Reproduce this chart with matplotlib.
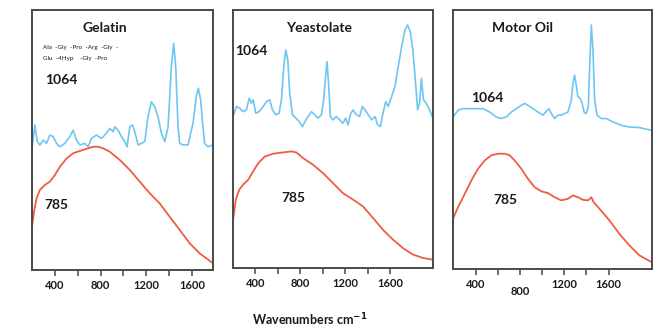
import matplotlib
matplotlib.use("Agg")
import matplotlib.pyplot as plt
import matplotlib.transforms as mtransforms

plt.rcParams['font.family'] = ['Lato', 'DejaVu Sans']

# ---------------- data (wavenumber cm^-1, relative intensity) ----------------
gel_1064_x = [202, 225, 246, 269, 298, 327, 356, 385, 415, 444, 487, 531, 560, 589, 618, 662, 691, 720,
              764, 808, 851, 880, 909, 924, 953, 982, 1011, 1032, 1055, 1078, 1099, 1128, 1157, 1186,
              1215, 1244, 1273, 1302, 1332, 1361, 1390, 1419, 1439, 1457, 1477, 1492, 1521, 1564,
              1608, 1637, 1655, 1675, 1695, 1710, 1739, 1783]
gel_1064_y = [0.474, 0.558, 0.494, 0.481, 0.500, 0.487, 0.519, 0.513, 0.487, 0.474, 0.487, 0.513, 0.538,
              0.500, 0.481, 0.487, 0.474, 0.506, 0.519, 0.506, 0.526, 0.545, 0.532, 0.551, 0.538, 0.513,
              0.494, 0.474, 0.551, 0.558, 0.532, 0.481, 0.487, 0.494, 0.590, 0.647, 0.628, 0.590, 0.526,
              0.494, 0.551, 0.782, 0.872, 0.782, 0.551, 0.487, 0.481, 0.481, 0.564, 0.667, 0.699, 0.654,
              0.551, 0.487, 0.474, 0.481]
gel_785_x = [202, 220, 240, 269, 313, 356, 400, 444, 502, 560, 647, 735, 778, 822, 880, 968, 1055, 1142,
             1230, 1317, 1404, 1492, 1579, 1666, 1783]
gel_785_y = [0.173, 0.231, 0.276, 0.308, 0.327, 0.340, 0.365, 0.397, 0.429, 0.449, 0.462, 0.474, 0.474,
             0.468, 0.455, 0.423, 0.385, 0.340, 0.295, 0.256, 0.205, 0.154, 0.103, 0.064, 0.026]

yst_1064_x = [201, 231, 261, 290, 320, 344, 364, 379, 403, 433, 468, 498, 527, 551, 581, 610, 631, 652,
              670, 688, 705, 729, 759, 788, 818, 841, 868, 898, 927, 957, 987, 1007, 1025, 1037, 1052,
              1067, 1090, 1120, 1150, 1179, 1203, 1224, 1244, 1268, 1298, 1327, 1351, 1375, 1404, 1434,
              1464, 1487, 1511, 1535, 1559, 1582, 1612, 1641, 1671, 1701, 1730, 1754, 1778, 1801, 1825,
              1843, 1861, 1877, 1895, 1919, 1949, 1979]
yst_1064_y = [0.587, 0.626, 0.619, 0.606, 0.613, 0.658, 0.639, 0.652, 0.600, 0.606, 0.626, 0.645, 0.652,
              0.613, 0.594, 0.600, 0.652, 0.781, 0.845, 0.806, 0.677, 0.594, 0.581, 0.568, 0.548, 0.568,
              0.587, 0.606, 0.594, 0.581, 0.594, 0.652, 0.748, 0.800, 0.703, 0.587, 0.574, 0.587, 0.574,
              0.561, 0.581, 0.555, 0.594, 0.613, 0.594, 0.587, 0.626, 0.613, 0.594, 0.574, 0.587, 0.555,
              0.548, 0.600, 0.645, 0.626, 0.665, 0.703, 0.781, 0.858, 0.923, 0.942, 0.916, 0.845, 0.716,
              0.613, 0.639, 0.735, 0.652, 0.639, 0.613, 0.581]
yst_785_x = [201, 225, 255, 290, 335, 379, 424, 483, 557, 646, 720, 764, 824, 913, 1001, 1090, 1179, 1268,
             1357, 1446, 1535, 1624, 1713, 1801, 1890, 1979]
yst_785_y = [0.187, 0.265, 0.303, 0.323, 0.342, 0.374, 0.406, 0.432, 0.443, 0.448, 0.452, 0.448, 0.426,
             0.400, 0.368, 0.329, 0.290, 0.265, 0.239, 0.194, 0.148, 0.110, 0.077, 0.052, 0.039, 0.032]

oil_1064_x = [195, 241, 286, 346, 406, 466, 526, 586, 632, 677, 722, 767, 812, 842, 872, 917, 962, 1008,
              1032, 1062, 1083, 1113, 1143, 1173, 1203, 1233, 1263, 1278, 1293, 1308, 1323, 1344, 1362,
              1378, 1399, 1417, 1429, 1444, 1459, 1474, 1495, 1534, 1579, 1639, 1714, 1790, 1880, 1991]
oil_1064_y = [0.587, 0.613, 0.619, 0.619, 0.619, 0.619, 0.606, 0.587, 0.581, 0.587, 0.606, 0.619, 0.632,
              0.639, 0.632, 0.619, 0.606, 0.594, 0.606, 0.619, 0.600, 0.581, 0.594, 0.594, 0.600, 0.606,
              0.652, 0.716, 0.748, 0.710, 0.665, 0.658, 0.639, 0.606, 0.600, 0.626, 0.781, 0.942, 0.845,
              0.652, 0.594, 0.581, 0.581, 0.568, 0.555, 0.548, 0.546, 0.535]
oil_785_x = [195, 241, 301, 361, 421, 481, 541, 602, 662, 707, 752, 812, 872, 932, 993, 1053, 1113, 1173,
             1233, 1278, 1323, 1369, 1414, 1444, 1465, 1519, 1609, 1699, 1790, 1880, 1991]
oil_785_y = [0.194, 0.239, 0.290, 0.342, 0.387, 0.419, 0.439, 0.445, 0.445, 0.439, 0.419, 0.387, 0.348,
             0.316, 0.300, 0.293, 0.277, 0.265, 0.271, 0.284, 0.277, 0.267, 0.265, 0.277, 0.258, 0.232,
             0.187, 0.135, 0.090, 0.052, 0.026]

titles = ["Gelatin", "Yeastolate", "Motor Oil"]
tick_vals = [400, 800, 1200, 1600]
tick_labels = ["400", "800", "1200", "1600"]
minor_vals = [600, 1000, 1400]
xlims = [(200, 1783), (200, 1980), (195, 1992)]
peptide_lines = ["Ala  -Gly  -Pro  -Arg  -Gly  -", "Glu  -4Hyp    -Gly  -Pro"]

BLUE = "#6EC6F2"
RED = "#EE5E3E"
TXT = "#1a1a1a"

fig = plt.figure(figsize=(6.62, 3.30), dpi=100)
W, H = 662, 330
boxes = [(32, 213, 10, 270), (233, 433, 10, 268), (453, 652, 10, 269)]
axes = []
for (l, r, t, b) in boxes:
    axes.append(fig.add_axes([l / W, 1 - b / H, (r - l) / W, (b - t) / H]))

series = [(gel_1064_x, gel_1064_y, gel_785_x, gel_785_y),
          (yst_1064_x, yst_1064_y, yst_785_x, yst_785_y),
          (oil_1064_x, oil_1064_y, oil_785_x, oil_785_y)]

for i, ax in enumerate(axes):
    bx, by, rx, ry = series[i]
    ax.plot(bx, by, color=BLUE, lw=1.2)
    ax.plot(rx, ry, color=RED, lw=1.3)
    ax.set_xlim(*xlims[i])
    ax.set_ylim(0, 1)
    ax.set_yticks([])
    ax.set_xticks(tick_vals)
    if i == 2:
        ax.set_xticklabels(["400", "", "1200", "1600"])
    else:
        ax.set_xticklabels(tick_labels)
    ax.set_xticks(minor_vals, minor=True)
    ax.tick_params(axis='x', which='both', direction='out', length=4, width=1.2, color="#555555",
                   labelsize=8, labelcolor=TXT, pad=3)
    for lab in ax.get_xticklabels():
        lab.set_fontweight('bold')
    for sp in ax.spines.values():
        sp.set_color("#4a4a4a")
        sp.set_linewidth(1.4)

# lowered "800" label on the third panel
trans3 = mtransforms.blended_transform_factory(axes[2].transData, axes[2].transAxes)
axes[2].text(800, -0.085, "800", transform=trans3, ha='center', va='center', fontsize=8,
             fontweight='bold', color=TXT)

# titles and laser labels
axes[0].text(0.40, 0.93, titles[0], transform=axes[0].transAxes, ha='center', va='center',
             fontsize=10, fontweight='bold', color=TXT)
axes[1].text(0.43, 0.93, titles[1], transform=axes[1].transAxes, ha='center', va='center',
             fontsize=10, fontweight='bold', color=TXT)
axes[2].text(0.35, 0.93, titles[2], transform=axes[2].transAxes, ha='center', va='center',
             fontsize=10, fontweight='bold', color=TXT)

axes[0].text(0.06, 0.855, peptide_lines[0], transform=axes[0].transAxes, ha='left', va='center',
             fontsize=4.5, color=TXT)
axes[0].text(0.06, 0.815, peptide_lines[1], transform=axes[0].transAxes, ha='left', va='center',
             fontsize=4.5, color=TXT)

axes[0].text(0.07, 0.73, "1064", transform=axes[0].transAxes, ha='left', va='center',
             fontsize=10, fontweight='bold', color=TXT)
axes[0].text(0.07, 0.25, "785", transform=axes[0].transAxes, ha='left', va='center',
             fontsize=10, fontweight='bold', color=TXT)
axes[1].text(0.01, 0.84, "1064", transform=axes[1].transAxes, ha='left', va='center',
             fontsize=10, fontweight='bold', color=TXT)
axes[1].text(0.24, 0.27, "785", transform=axes[1].transAxes, ha='left', va='center',
             fontsize=10, fontweight='bold', color=TXT)
axes[2].text(0.09, 0.66, "1064", transform=axes[2].transAxes, ha='left', va='center',
             fontsize=10, fontweight='bold', color=TXT)
axes[2].text(0.205, 0.265, "785", transform=axes[2].transAxes, ha='left', va='center',
             fontsize=10, fontweight='bold', color=TXT)

fig.text(310 / W, 1 - 320 / H, "Wavenumbers cm$^{\\mathbf{-1}}$", ha='center', va='center', fontsize=9,
         fontweight='bold', color=TXT)

fig.savefig("out.png", dpi=100, facecolor="white")
